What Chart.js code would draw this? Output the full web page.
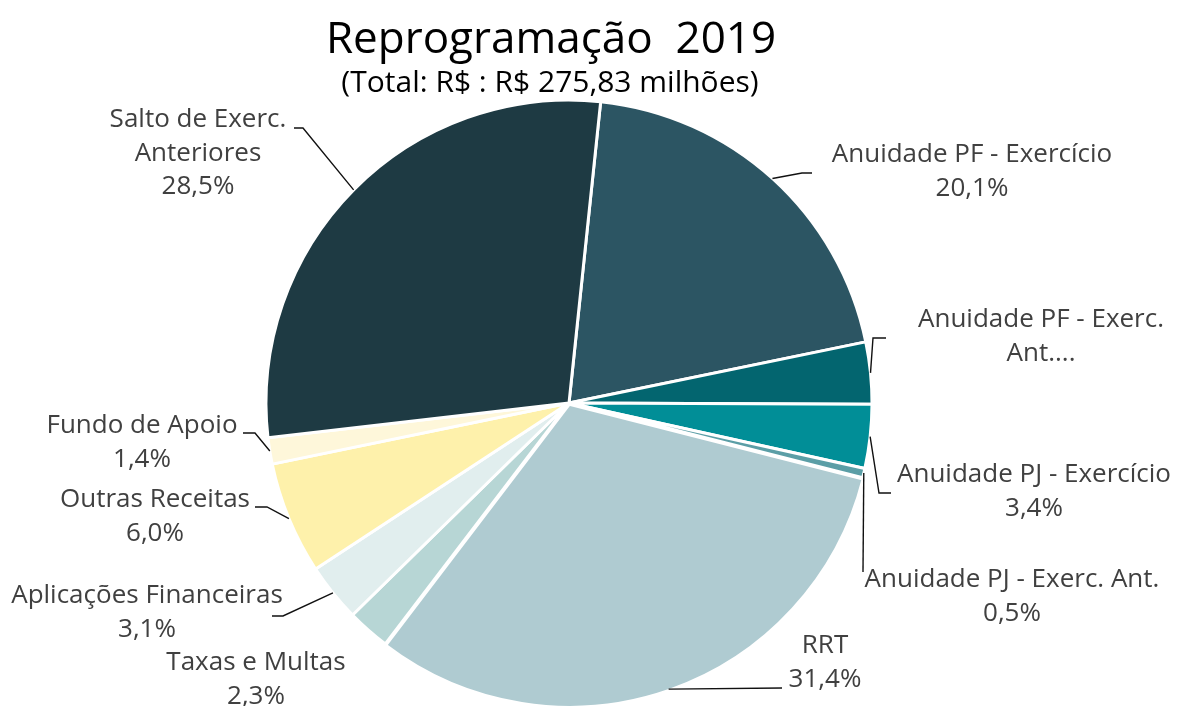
<!DOCTYPE html>
<html>
<head>
<meta charset="utf-8">
<script src="https://cdn.jsdelivr.net/npm/chart.js@4"></script>
<style>
  html, body { margin: 0; padding: 0; background: #fff; }
  canvas { display: block; }
</style>
</head>
<body>
<canvas id="pieChart" width="1178" height="706"></canvas>
<script>
// dados
var categorias = ["Anuidade PF - Exercício", "Anuidade PF - Exerc. Ant.", "Anuidade PJ - Exercício",
  "Anuidade PJ - Exerc. Ant.", "RRT", "Taxas e Multas", "Aplicações Financeiras",
  "Outras Receitas", "Fundo de Apoio", "Salto de Exerc. Anteriores"];
var percentuais = [20.1, 3.3, 3.4, 0.5, 31.4, 2.3, 3.1, 6.0, 1.4, 28.5];
var cores = ['#2c5563', '#03656f', '#018e97', '#5b9ea6', '#afcbd1',
  '#b7d6d5', '#e1eeee', '#fef1ab', '#fef7da', '#1e3a43'];
var titulo = "Reprogramação  2019";
var subtitulo = "(Total: R$ : R$ 275,83 milhões)";

// rotulos: linhas de texto (o "%" vira percentual), posicao e linha guia
var rotulos = [
  { linhas: ["Anuidade PF - Exercício", "%"], x: 972, y: 162, guia: [[802, 173], [812, 173]] },
  { linhas: ["Anuidade PF - Exerc.", "Ant...."], x: 1041, y: 327, guia: [[873, 338], [886, 338]] },
  { linhas: ["Anuidade PJ - Exercício", "%"], x: 1034, y: 482, guia: [[879, 493], [891, 493]] },
  { linhas: ["Anuidade PJ - Exerc. Ant.", "%"], x: 1012, y: 587, guia: [[863, 572]] },
  { linhas: ["RRT", "%"], x: 825, y: 653, guia: [[782, 688]] },
  { linhas: ["Taxas e Multas", "%"], x: 256, y: 670, guia: null },
  { linhas: ["Aplicações Financeiras", "%"], x: 147, y: 603, guia: [[283, 616], [272, 616]] },
  { linhas: ["Outras Receitas", "%"], x: 155, y: 507, guia: [[267, 507], [255, 507]] },
  { linhas: ["Fundo de Apoio", "%"], x: 142, y: 433, guia: [[255, 433], [243, 433]] },
  { linhas: ["Salto de Exerc.", "Anteriores", "%"], x: 198, y: 127, guia: [[303, 128], [294, 128]] }
];

var fonte = "'Open Sans', 'Noto Sans', sans-serif";

function fmt(v) { return v.toFixed(1).replace('.', ',') + '%'; }

var rotulosPlugin = {
  id: 'rotulos',
  afterDraw: function(chart) {
    var ctx = chart.ctx;
    var arcs = chart.getDatasetMeta(0).data;
    ctx.save();
    ctx.fillStyle = '#000';
    ctx.textAlign = 'center';
    ctx.textBaseline = 'alphabetic';
    ctx.font = '44px ' + fonte;
    ctx.fillText(titulo, 551, 53);
    ctx.font = '30px ' + fonte;
    ctx.fillText(subtitulo, 550, 92);

    ctx.strokeStyle = '#111';
    ctx.lineWidth = 1.4;
    rotulos.forEach(function(r, i) {
      var a = arcs[i];
      if (r.guia) {
        var p = a.getProps(['x', 'y', 'startAngle', 'endAngle', 'outerRadius']);
        var mid = (p.startAngle + p.endAngle) / 2;
        ctx.beginPath();
        ctx.moveTo(p.x + Math.cos(mid) * p.outerRadius, p.y + Math.sin(mid) * p.outerRadius);
        r.guia.forEach(function(pt) { ctx.lineTo(pt[0], pt[1]); });
        ctx.stroke();
      }
      ctx.fillStyle = '#404040';
      ctx.font = '26px ' + fonte;
      r.linhas.forEach(function(t, k) {
        var txt = t === '%' ? fmt(percentuais[i]) : t;
        ctx.fillText(txt, r.x, r.y + k * 33.5);
      });
    });
    ctx.restore();
  }
};

var ctxP = document.getElementById("pieChart").getContext('2d');
var myPieChart = new Chart(ctxP, {
  type: 'pie',
  data: {
    labels: categorias,
    datasets: [{
      data: percentuais,
      backgroundColor: cores,
      borderColor: '#ffffff',
      borderWidth: 3,
      offset: [0, 0, 0, 0, 5, 0, 0, 0, 0, 0]
    }]
  },
  options: {
    responsive: false,
    animation: false,
    rotation: 6,
    radius: 303,
    layout: { padding: { top: 100, right: 40 } },
    plugins: {
      legend: { display: false },
      tooltip: { enabled: false }
    }
  },
  plugins: [rotulosPlugin]
});
</script>
</body>
</html>
